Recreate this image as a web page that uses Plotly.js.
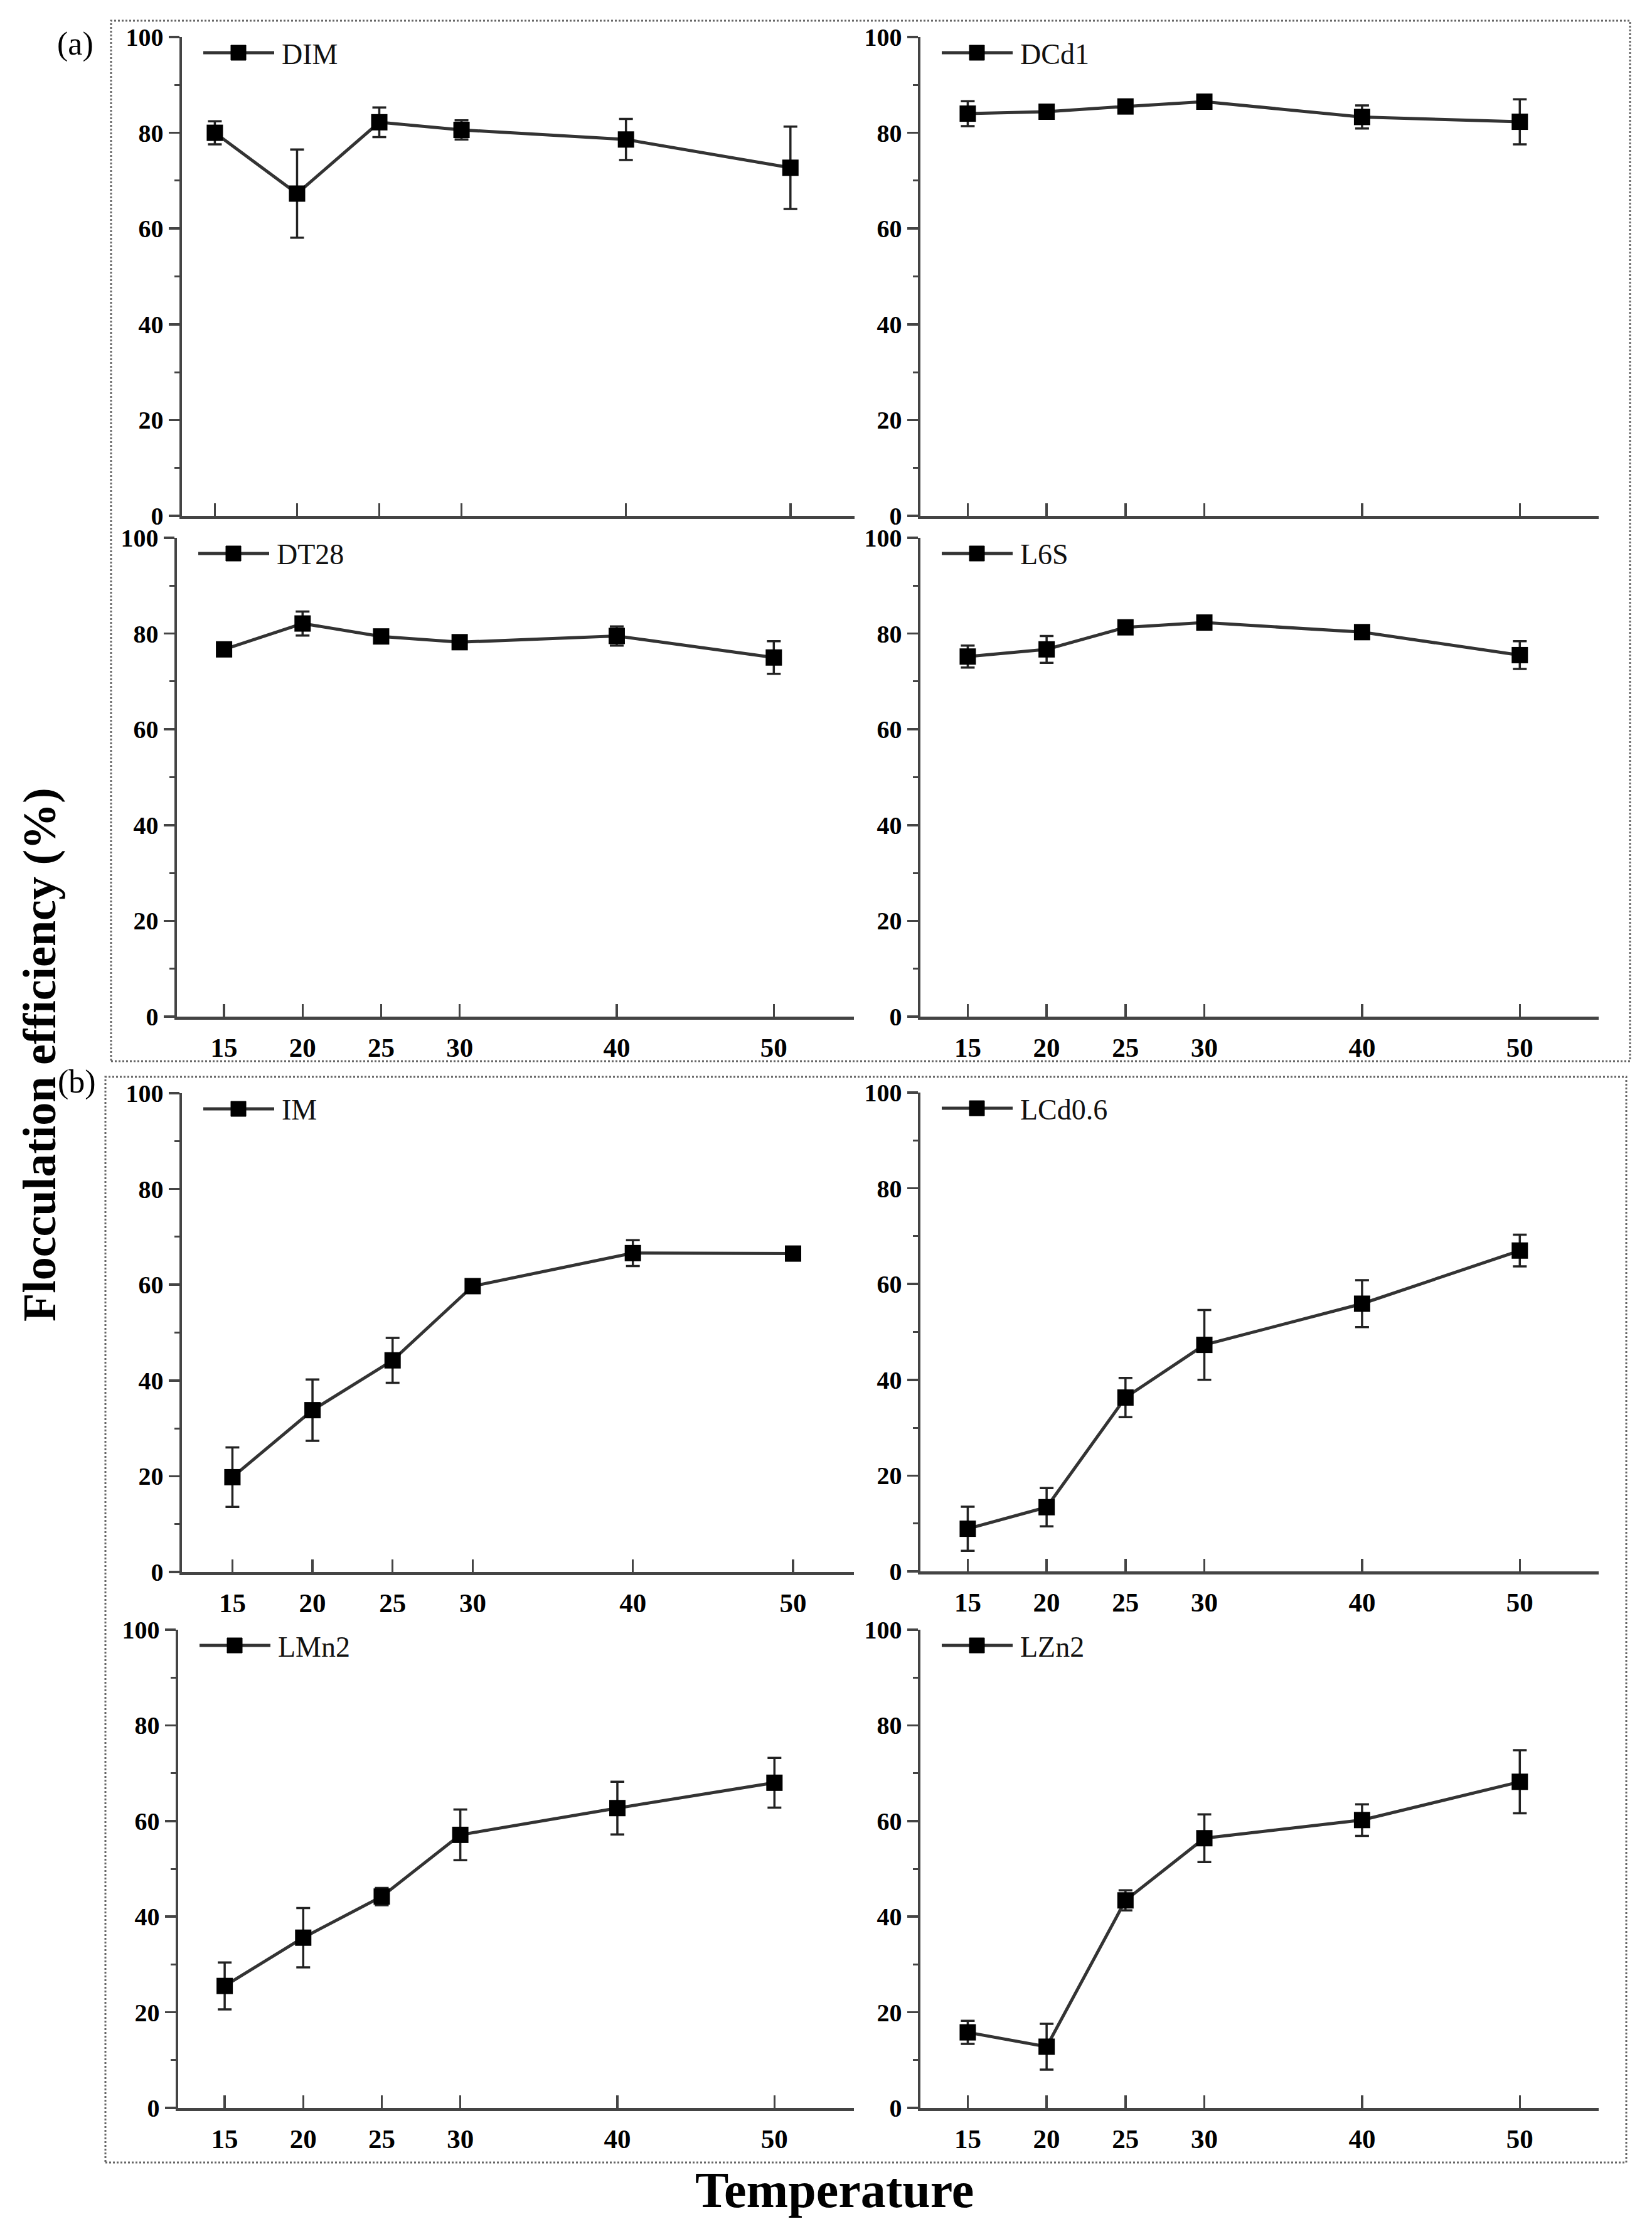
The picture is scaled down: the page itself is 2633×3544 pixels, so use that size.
<!DOCTYPE html>
<html>
<head>
<meta charset="utf-8">
<script src="https://cdn.plot.ly/plotly-3.0.1.min.js"></script>
<style>html,body{margin:0;padding:0;background:#fff;}</style>
</head>
<body>
<div id="chart" style="width:2633px;height:3544px;"></div>
<script>
// ---------- data ----------
const temperature = [15, 20, 25, 30, 40, 50];
const tickLabels = ["15", "20", "25", "30", "40", "50"];
const seriesNames = ["DIM", "DCd1", "DT28", "L6S", "IM", "LCd0.6", "LMn2", "LZn2"];

const DIM      = [80.0, 67.3, 82.2, 80.6, 78.6, 72.7];
const DIM_err  = [2.4, 9.2, 3.1, 2.0, 4.3, 8.6];
const DCd1     = [84.0, 84.4, 85.5, 86.5, 83.3, 82.3];
const DCd1_err = [2.6, 1.0, 1.0, 1.0, 2.4, 4.7];
const DT28     = [76.7, 82.1, 79.4, 78.2, 79.5, 75.0];
const DT28_err = [0.8, 2.5, 1.0, 1.0, 2.0, 3.4];
const L6S      = [75.2, 76.7, 81.3, 82.3, 80.3, 75.5];
const L6S_err  = [2.3, 2.8, 1.0, 1.3, 0.8, 2.9];
const IM       = [19.8, 33.8, 44.2, 59.7, 66.6, 66.5];
const IM_err   = [6.2, 6.4, 4.7, 0.5, 2.7, 1.2];
const LCd06    = [8.9, 13.4, 36.3, 47.3, 55.9, 67.0];
const LCd06_err= [4.6, 4.0, 4.1, 7.3, 4.9, 3.3];
const LMn2     = [25.5, 35.6, 44.2, 57.1, 62.7, 68.0];
const LMn2_err = [4.9, 6.2, 1.8, 5.3, 5.5, 5.2];
const LZn2     = [15.8, 12.8, 43.4, 56.4, 60.2, 68.2];
const LZn2_err = [2.4, 4.8, 2.1, 5.0, 3.3, 6.6];

const values = [DIM, DCd1, DT28, L6S, IM, LCd06, LMn2, LZn2];
const errors = [DIM_err, DCd1_err, DT28_err, L6S_err, IM_err, LCd06_err, LMn2_err, LZn2_err];

// ---------- layout (pixel geometry) ----------
const W = 2633, H = 3544;
const FONT = "Liberation Serif, Times New Roman, serif";
const LINE_COLOR = "#333";
const AXIS_COLOR = "#444";
// [left, right, top(y=100), bottom(y=0), xmin, xmax, showXLabels]
const panels = [
  [290, 1362, 59, 822, 13.0, 53.9, false],
  [1467, 2548, 59, 822, 12.0, 55.0, false],
  [282, 1361, 857, 1620, 12.0, 55.1, true],
  [1467, 2548, 857, 1620, 12.0, 55.0, true],
  [290, 1361, 1742, 2505, 11.85, 53.8, true],
  [1467, 2548, 1741, 2504, 12.0, 55.0, true],
  [284, 1361, 2597, 3359, 12.04, 55.06, true],
  [1467, 2548, 2597, 3359, 12.0, 55.0, true]
];

const px = v => v / W;
const py = v => 1 - v / H;

const data = [];
const layout = {
  width: W, height: H,
  margin: {l: 0, r: 0, t: 0, b: 0},
  paper_bgcolor: "#fff", plot_bgcolor: "rgba(0,0,0,0)",
  font: {family: FONT, color: "#000"},
  showlegend: false,
  shapes: [], annotations: []
};

panels.forEach((p, i) => {
  const n = i + 1;
  const xa = n === 1 ? "x" : "x" + n;
  const ya = n === 1 ? "y" : "y" + n;
  data.push({
    type: "scatter", mode: "lines+markers",
    x: temperature, y: values[i],
    name: seriesNames[i],
    xaxis: xa, yaxis: ya,
    line: {color: LINE_COLOR, width: 5},
    marker: {symbol: "square", size: 26, color: "#000"},
    error_y: {type: "data", array: errors[i], visible: true, color: "#222", thickness: 3.5, width: 11},
    cliponaxis: false
  });
  const [l, r, t, b, xmin, xmax, showX] = p;
  layout["xaxis" + (n === 1 ? "" : n)] = {
    domain: [px(l), px(r)], anchor: ya,
    range: [xmin, xmax],
    tickmode: "array", tickvals: temperature, ticktext: tickLabels,
    showticklabels: showX,
    ticks: "inside", ticklen: 20, tickwidth: 3.5, tickcolor: AXIS_COLOR,
    showline: true, linecolor: AXIS_COLOR, linewidth: 4.5,
    showgrid: false, zeroline: false, fixedrange: true,
    tickfont: {family: FONT, size: 43, weight: "bold", color: "#000"},
    ticklabelstandoff: 8
  };
  layout["yaxis" + (n === 1 ? "" : n)] = {
    domain: [py(b), py(t)], anchor: xa,
    range: [0, 100],
    tickmode: "array", tickvals: [0, 20, 40, 60, 80, 100],
    ticks: "outside", ticklen: 17, tickwidth: 3.5, tickcolor: AXIS_COLOR,
    minor: {tickvals: [10, 30, 50, 70, 90], ticks: "outside", ticklen: 8, tickwidth: 3, tickcolor: AXIS_COLOR},
    showline: true, linecolor: AXIS_COLOR, linewidth: 4.5,
    showgrid: false, zeroline: false, fixedrange: true,
    tickfont: {family: FONT, size: 40, weight: "bold", color: "#000"}
  };
  // legend key (line – square – line, then series name) in the panel's top-left corner
  const ly = t + 25;
  layout.shapes.push(
    {type: "line", xref: "paper", yref: "paper", x0: px(l + 34), x1: px(l + 80), y0: py(ly), y1: py(ly),
     line: {color: LINE_COLOR, width: 5}},
    {type: "line", xref: "paper", yref: "paper", x0: px(l + 100), x1: px(l + 147), y0: py(ly), y1: py(ly),
     line: {color: LINE_COLOR, width: 5}},
    {type: "rect", xref: "paper", yref: "paper", x0: px(l + 78), x1: px(l + 102), y0: py(ly + 12), y1: py(ly - 12),
     line: {color: "#000", width: 1}, fillcolor: "#000"}
  );
  layout.annotations.push(
    {text: seriesNames[i], xref: "paper", yref: "paper", x: px(l + 157), y: py(ly + 2), showarrow: false,
     xanchor: "left", yanchor: "middle", font: {family: FONT, size: 46, color: "#111"}}
  );
});

// dotted frames of groups (a) and (b)
layout.shapes.push(
  {type: "rect", xref: "paper", yref: "paper", x0: px(177), x1: px(2598), y0: py(1691), y1: py(33),
   line: {color: "#666", width: 3, dash: "dot"}, fillcolor: "rgba(0,0,0,0)"},
  {type: "rect", xref: "paper", yref: "paper", x0: px(168), x1: px(2592), y0: py(3446), y1: py(1716),
   line: {color: "#666", width: 3, dash: "dot"}, fillcolor: "rgba(0,0,0,0)"}
);

layout.annotations.push(
  {text: "(a)", xref: "paper", yref: "paper", x: px(120), y: py(70), showarrow: false,
   xanchor: "center", yanchor: "middle", font: {family: FONT, size: 52, color: "#000"}},
  {text: "(b)", xref: "paper", yref: "paper", x: px(122), y: py(1724), showarrow: false,
   xanchor: "center", yanchor: "middle", font: {family: FONT, size: 52, color: "#000"}},
  {text: "Flocculation efficiency (%)", xref: "paper", yref: "paper", x: px(63), y: py(1681),
   showarrow: false, textangle: -90, xanchor: "center", yanchor: "middle",
   font: {family: FONT, size: 74, weight: "bold", color: "#000"}},
  {text: "Temperature", xref: "paper", yref: "paper", x: px(1330), y: py(3490),
   showarrow: false, xanchor: "center", yanchor: "middle",
   font: {family: FONT, size: 80, weight: "bold", color: "#000"}}
);

Plotly.newPlot("chart", data, layout, {staticPlot: true, displayModeBar: false});
</script>
</body>
</html>
